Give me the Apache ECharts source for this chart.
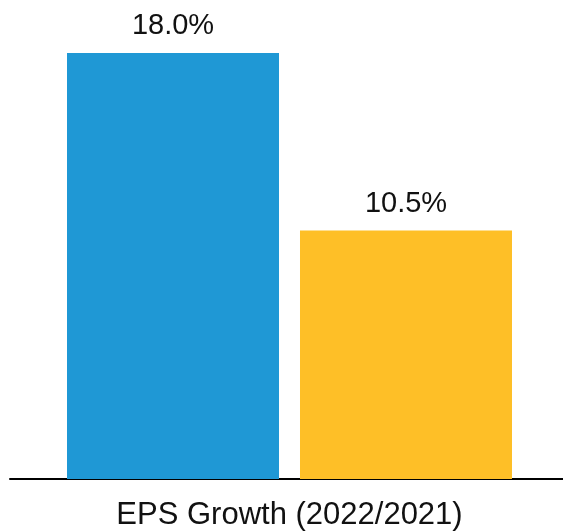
<!DOCTYPE html>
<html>
<head>
<meta charset="utf-8">
<script src="https://cdn.jsdelivr.net/npm/echarts@6/dist/echarts.min.js"></script>
<style>
  html, body { margin: 0; padding: 0; background: #fff; overflow: hidden; }
  /* the plot runs a few pixels past the right edge of the page */
  #chart { width: 569px; height: 532px; }
</style>
</head>
<body>
<div id="chart"></div>
<script>
// EPS growth, year over year
const categories = ['EPS Growth (2022/2021)'];
const seriesNames = ['Company', 'Peers'];
const seriesValues = [[18.0], [10.5]];
const seriesColors = ['#1F98D5', '#FEBF27'];

const chart = echarts.init(document.getElementById('chart'), null, { renderer: 'canvas' });

chart.setOption({
  animation: false,
  backgroundColor: '#ffffff',
  grid: { left: 10, right: 0, top: 5.6, bottom: 53, containLabel: false },
  xAxis: {
    type: 'category',
    data: categories,
    axisLine: { show: true, lineStyle: { color: '#000', width: 2 } },
    axisTick: { show: false },
    axisLabel: {
      color: '#111', fontSize: 31, fontFamily: 'Liberation Sans, Arial, sans-serif', margin: 21
    }
  },
  yAxis: {
    type: 'value', min: 0, max: 20,
    show: false, splitLine: { show: false }
  },
  series: seriesNames.map((name, i) => ({
    name,
    type: 'bar',
    data: seriesValues[i],
    barWidth: 212,
    barGap: '9.9%',
    itemStyle: { color: seriesColors[i] },
    label: {
      show: true, position: 'top', distance: 12,
      formatter: p => p.value.toFixed(1) + '%',
      color: '#111', fontSize: 29, fontFamily: 'Liberation Sans, Arial, sans-serif'
    }
  }))
});
</script>
</body>
</html>
